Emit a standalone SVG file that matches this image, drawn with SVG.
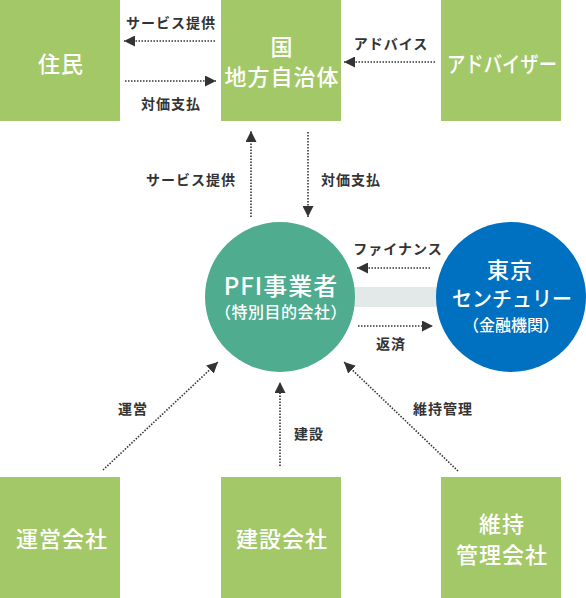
<svg xmlns="http://www.w3.org/2000/svg" width="586" height="598" viewBox="0 0 586 598">
<style>
.box{fill:#a3c868}
.bt{fill:#fff;font-family:"Noto Sans CJK JP","Noto Sans",sans-serif;font-size:22px;font-weight:500;text-anchor:middle;dominant-baseline:central;letter-spacing:1px}
.lb{fill:#333;font-family:"Noto Sans CJK JP","Noto Sans",sans-serif;font-size:14px;font-weight:bold;text-anchor:middle;dominant-baseline:central;letter-spacing:1px}
.ln{fill:none;stroke:#333;stroke-width:1.6;stroke-dasharray:1.5 1.5;marker-end:url(#ah)}
</style>
<defs>
<marker id="ah" markerUnits="userSpaceOnUse" markerWidth="11" markerHeight="11" refX="10" refY="5" orient="auto" viewBox="0 0 10 10">
<path d="M0,0 L10,5 L0,10 z" fill="#333"/>
</marker>
</defs>
<rect x="340" y="287" width="110" height="20" fill="#e3e8e8"/>
<g id="jumin"><rect class="box" x="0" y="0" width="120" height="121"/><text class="bt" x="61" y="62">住民</text></g>
<g id="kuni"><rect class="box" x="221" y="0" width="120" height="121"/><text class="bt" x="282" y="45">国</text><text class="bt" x="282" y="75">地方自治体</text></g>
<g id="advisor"><rect class="box" x="441" y="0" width="120" height="121"/><text class="bt" x="502" y="62" textLength="110" lengthAdjust="spacingAndGlyphs" style="letter-spacing:0">アドバイザー</text></g>
<g id="pfi"><circle cx="280" cy="297" r="75" fill="#4fac8e"/><text class="bt" x="281" y="284" style="font-size:24px">PFI事業者</text><text class="bt" x="281" y="311" style="font-size:16px;letter-spacing:0.5px">（特別目的会社）</text></g>
<g id="tokyo"><circle cx="511" cy="297" r="75" fill="#0070c0"/><text class="bt" x="510" y="268">東京</text><text class="bt" x="512" y="297" textLength="120" lengthAdjust="spacingAndGlyphs" style="letter-spacing:0;font-size:21px">センチュリー</text><text class="bt" x="511" y="324" style="font-size:16px;letter-spacing:0">（金融機関）</text></g>
<g id="unei"><rect class="box" x="0" y="477" width="120" height="121"/><text class="bt" x="62" y="537">運営会社</text></g>
<g id="kensetsu"><rect class="box" x="221" y="477" width="120" height="121"/><text class="bt" x="282" y="537">建設会社</text></g>
<g id="iji"><rect class="box" x="441" y="477" width="120" height="121"/><text class="bt" x="502" y="522">維持</text><text class="bt" x="502" y="553">管理会社</text></g>
<g id="connectors">
<line class="ln" x1="215" y1="41" x2="124" y2="41"/>
<line class="ln" x1="125" y1="81" x2="216" y2="81"/>
<line class="ln" x1="435" y1="62" x2="344" y2="62"/>
<line class="ln" x1="251" y1="217" x2="251" y2="131"/>
<line class="ln" x1="308" y1="132" x2="308" y2="217"/>
<line class="ln" x1="430" y1="268" x2="357" y2="268"/>
<line class="ln" x1="358" y1="326" x2="433" y2="326"/>
<line class="ln" x1="103" y1="470" x2="218" y2="362"/>
<line class="ln" x1="280" y1="466" x2="280" y2="382"/>
<line class="ln" x1="458" y1="471" x2="344" y2="362"/>
<text class="lb" x="171" y="22">サービス提供</text>
<text class="lb" x="171" y="103">対価支払</text>
<text class="lb" x="391" y="43">アドバイス</text>
<text class="lb" x="191" y="179">サービス提供</text>
<text class="lb" x="351" y="179">対価支払</text>
<text class="lb" x="398" y="248">ファイナンス</text>
<text class="lb" x="391" y="343">返済</text>
<text class="lb" x="133" y="408">運営</text>
<text class="lb" x="309" y="433">建設</text>
<text class="lb" x="443" y="408">維持管理</text>
</g>
</svg>
